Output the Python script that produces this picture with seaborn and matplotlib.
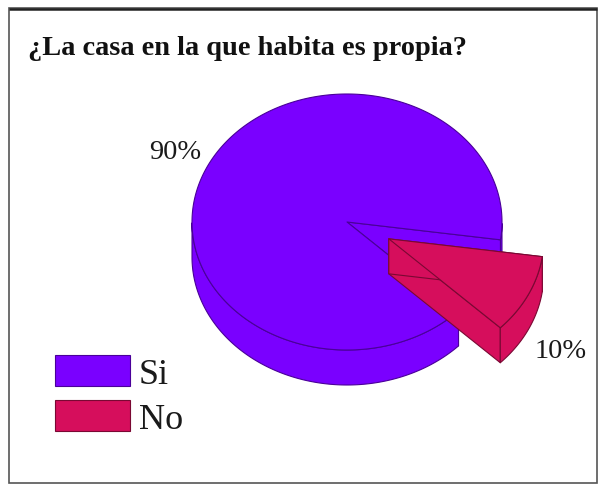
import numpy as np
import matplotlib
matplotlib.use("Agg")
import matplotlib.pyplot as plt
from matplotlib.patches import Polygon, Rectangle
import seaborn as sns

# Survey answers and their shares
categories = ["Si", "No"]
shares = [90, 10]
colors = ["#7A00FF", "#D60E5C"]
edge_colors = ["#4A0099", "#7A0833"]
exploded = [0.0, 0.30]
title = "¿La casa en la que habita es propia?"

sns.set_theme(style="white")
plt.rcParams["font.family"] = ["Liberation Serif", "DejaVu Serif"]

W, H = 598, 485
fig = plt.figure(figsize=(W / 100, H / 100), dpi=100)
ax = fig.add_axes([0, 0, 1, 1])
ax.set_xlim(0, W)
ax.set_ylim(H, 0)
ax.axis("off")

# pie geometry in pixel space (y grows downward)
cx, cy = 347.0, 223.0
rx, ry = 155.0, 128.0
depth = 35.0
start = -8.0  # degrees, slices run counter-clockwise


def proj(theta_deg, ox, oy, r=1.0):
    t = np.radians(theta_deg)
    return ox + rx * r * np.cos(t), oy - ry * r * np.sin(t)


def draw_slice(t1, t2, ox, oy, face, edge):
    kw = dict(facecolor=face, edgecolor=edge, linewidth=0.8, joinstyle="round")
    # radial side faces
    for t in (t1, t2):
        px, py = proj(t, ox, oy)
        quad = [(ox, oy), (px, py), (px, py + depth), (ox, oy + depth)]
        ax.add_patch(Polygon(quad, closed=True, **kw))
    # outer wall, only the part facing the viewer
    th = np.linspace(t1, t2, 400)
    front = np.sin(np.radians(th)) < 0
    idx = np.flatnonzero(front)
    if idx.size:
        groups = np.split(idx, np.flatnonzero(np.diff(idx) > 1) + 1)
        for g in groups:
            xs, ys = proj(th[g], ox, oy)
            pts = list(zip(xs, ys)) + list(zip(xs[::-1], ys[::-1] + depth))
            ax.add_patch(Polygon(pts, closed=True, **kw))
    # top face
    xs, ys = proj(th, ox, oy)
    pts = [(ox, oy)] + list(zip(xs, ys))
    ax.add_patch(Polygon(pts, closed=True, **kw))


total = float(sum(shares))
angle = start
for cat, val, col, ec, ex in zip(categories, shares, colors, edge_colors, exploded):
    span = 360.0 * val / total
    t1, t2 = angle, angle + span
    mid = np.radians((t1 + t2) / 2)
    ox = cx + ex * rx * np.cos(mid)
    oy = cy - ex * ry * np.sin(mid)
    draw_slice(t1, t2, ox, oy, col, ec)
    angle = t2

# percentage labels placed just outside each slice
label_pos = [(175, 159), (561, 358)]
for val, (lx, ly) in zip(shares, label_pos):
    ax.text(lx, ly, f"{val}%", fontsize=20.5, ha="center", va="baseline",
            color="#1a1a1a")

# title
ax.text(28, 55, title, fontsize=20.4, fontweight="bold", ha="left",
        va="baseline", color="#111111")

# legend swatches
for i, (cat, col, ec) in enumerate(zip(categories, colors, edge_colors)):
    y0 = 356 + i * 45
    ax.add_patch(Rectangle((55, y0), 75, 31, facecolor=col, edgecolor=ec,
                           linewidth=0.8))
    ax.text(139, y0 + 28, cat, fontsize=26, ha="left", va="baseline",
            color="#1a1a1a")

# outer frame
ax.add_patch(Rectangle((9, 9), 588, 475, fill=False, edgecolor="#555555",
                       linewidth=1.2))
ax.plot([9, 597], [9.5, 9.5], color="#222222", linewidth=1.8,
        solid_capstyle="butt")

fig.savefig("out.png", dpi=100)
